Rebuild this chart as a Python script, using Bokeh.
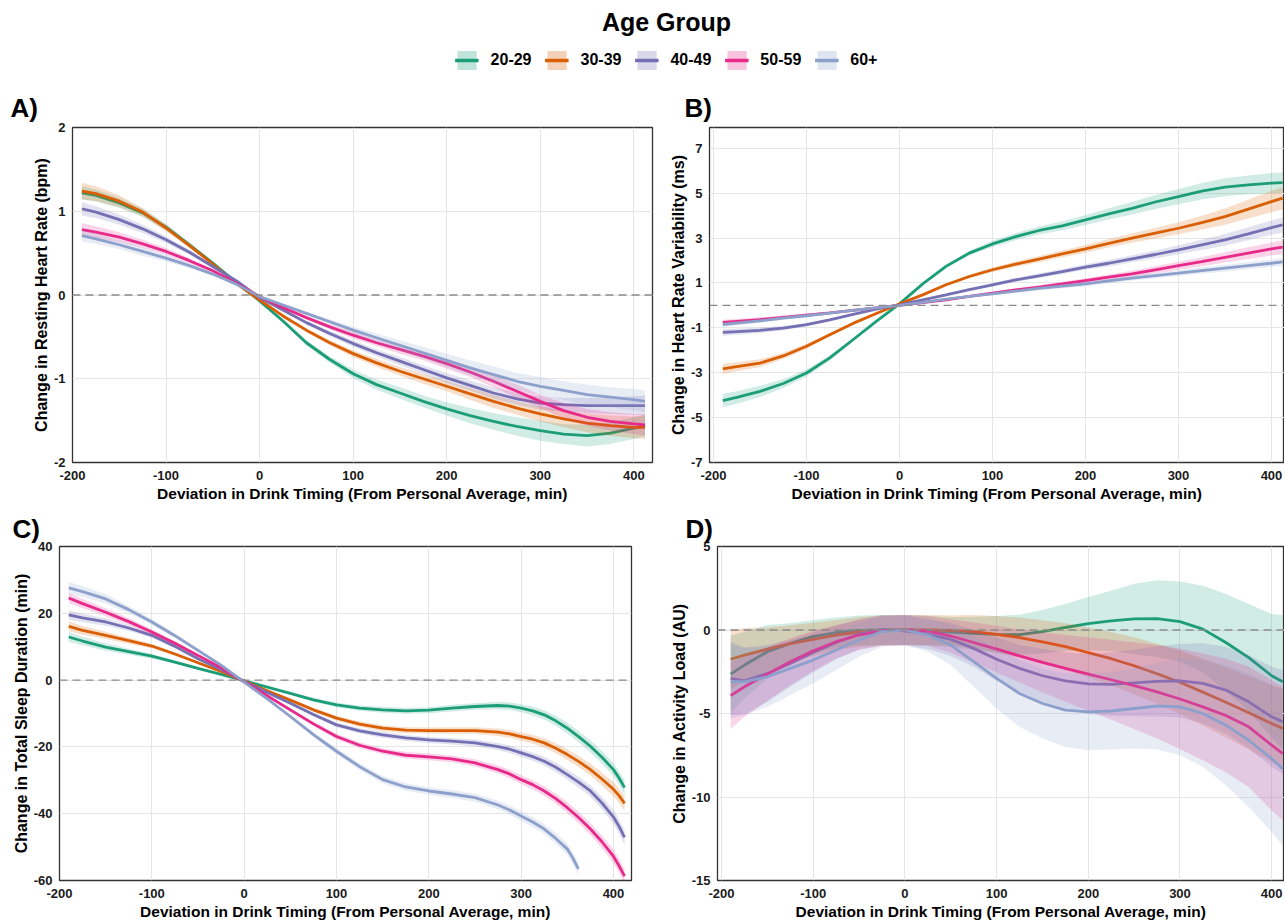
from bokeh.plotting import figure
from bokeh.models import Range1d, FixedTicker, Span, Legend, LegendItem, Title
from bokeh.layouts import column, row
from bokeh.embed import file_html
from bokeh.resources import INLINE

GROUPS = ["20-29", "30-39", "40-49", "50-59", "60+"]
COLORS = ["#1b9e77", "#d95f02", "#7570b3", "#e7298a", "#8da0cb"]

X = [-190, -175, -150, -125, -100, -75, -50, -25, 0, 25, 50, 75, 100, 125,
     150, 175, 200, 225, 250, 275, 300, 325, 350, 375, 400, 412]
X_TICKS = [-200, -100, 0, 100, 200, 300, 400]

# ---- Panel A: resting heart rate (bpm)
A_2029 = [1.22, 1.19, 1.10, 0.98, 0.81, 0.60, 0.38, 0.15, -0.07, -0.31, -0.57, -0.77, -0.94, -1.07, -1.17, -1.27, -1.36, -1.44, -1.51, -1.57, -1.62, -1.66, -1.68, -1.65, -1.59, -1.56]
A_3039 = [1.24, 1.21, 1.12, 0.99, 0.80, 0.59, 0.37, 0.14, -0.06, -0.25, -0.42, -0.57, -0.70, -0.81, -0.91, -1.00, -1.09, -1.18, -1.27, -1.35, -1.42, -1.48, -1.53, -1.56, -1.58, -1.58]
A_4049 = [1.03, 0.99, 0.90, 0.79, 0.66, 0.51, 0.34, 0.17, -0.03, -0.18, -0.33, -0.46, -0.58, -0.69, -0.79, -0.89, -0.99, -1.08, -1.17, -1.24, -1.29, -1.31, -1.32, -1.32, -1.32, -1.32]
A_5059 = [0.78, 0.75, 0.69, 0.61, 0.52, 0.41, 0.29, 0.14, -0.02, -0.15, -0.27, -0.38, -0.48, -0.57, -0.65, -0.73, -0.82, -0.92, -1.03, -1.15, -1.27, -1.38, -1.46, -1.51, -1.54, -1.55]
A_60 = [0.71, 0.67, 0.60, 0.52, 0.44, 0.35, 0.25, 0.13, -0.02, -0.12, -0.22, -0.32, -0.42, -0.51, -0.60, -0.69, -0.78, -0.87, -0.95, -1.03, -1.09, -1.14, -1.19, -1.22, -1.25, -1.27]
A_2029_CI = [0.08, 0.07, 0.06, 0.05, 0.04, 0.03, 0.02, 0.01, 0.01, 0.02, 0.03, 0.04, 0.05, 0.06, 0.07, 0.07, 0.08, 0.09, 0.10, 0.11, 0.12, 0.12, 0.13, 0.13, 0.13, 0.13]
A_3039_CI = [0.10, 0.09, 0.07, 0.05, 0.04, 0.03, 0.02, 0.01, 0.01, 0.02, 0.02, 0.03, 0.04, 0.05, 0.05, 0.06, 0.06, 0.07, 0.08, 0.08, 0.09, 0.10, 0.11, 0.12, 0.13, 0.14]
A_4049_CI = [0.08, 0.07, 0.06, 0.05, 0.04, 0.03, 0.02, 0.01, 0.01, 0.02, 0.02, 0.03, 0.04, 0.04, 0.05, 0.05, 0.06, 0.06, 0.07, 0.07, 0.08, 0.08, 0.09, 0.10, 0.11, 0.12]
A_5059_CI = [0.08, 0.07, 0.06, 0.05, 0.04, 0.03, 0.02, 0.01, 0.01, 0.02, 0.02, 0.03, 0.04, 0.04, 0.05, 0.05, 0.06, 0.06, 0.07, 0.08, 0.08, 0.09, 0.10, 0.11, 0.12, 0.13]
A_60_CI = [0.07, 0.06, 0.05, 0.05, 0.04, 0.03, 0.02, 0.01, 0.01, 0.02, 0.02, 0.03, 0.04, 0.05, 0.06, 0.07, 0.08, 0.09, 0.10, 0.10, 0.11, 0.11, 0.12, 0.12, 0.13, 0.13]

# ---- Panel B: heart rate variability (ms)
B_2029 = [-4.24, -4.10, -3.83, -3.48, -3.01, -2.34, -1.53, -0.71, 0.07, 0.96, 1.74, 2.33, 2.74, 3.07, 3.34, 3.55, 3.81, 4.08, 4.33, 4.61, 4.85, 5.09, 5.27, 5.37, 5.45, 5.47]
B_3039 = [-2.83, -2.73, -2.57, -2.25, -1.82, -1.31, -0.80, -0.36, 0.07, 0.47, 0.92, 1.29, 1.59, 1.84, 2.06, 2.30, 2.52, 2.77, 3.00, 3.22, 3.44, 3.69, 3.96, 4.29, 4.63, 4.78]
B_4049 = [-1.20, -1.17, -1.11, -1.01, -0.86, -0.64, -0.40, -0.17, 0.03, 0.25, 0.47, 0.70, 0.92, 1.14, 1.32, 1.51, 1.71, 1.88, 2.08, 2.27, 2.48, 2.70, 2.92, 3.19, 3.47, 3.59]
B_5059 = [-0.76, -0.71, -0.63, -0.53, -0.43, -0.33, -0.22, -0.11, 0.0, 0.13, 0.25, 0.40, 0.55, 0.69, 0.82, 0.96, 1.11, 1.26, 1.41, 1.59, 1.77, 1.95, 2.14, 2.33, 2.52, 2.60]
B_60 = [-0.85, -0.79, -0.69, -0.57, -0.46, -0.34, -0.22, -0.11, 0.0, 0.14, 0.28, 0.40, 0.52, 0.64, 0.76, 0.86, 0.96, 1.09, 1.22, 1.33, 1.44, 1.55, 1.66, 1.77, 1.88, 1.94]
B_2029_CI = [0.30, 0.28, 0.25, 0.20, 0.16, 0.12, 0.08, 0.05, 0.03, 0.05, 0.08, 0.11, 0.14, 0.16, 0.18, 0.20, 0.22, 0.25, 0.28, 0.31, 0.34, 0.37, 0.40, 0.42, 0.45, 0.46]
B_3039_CI = [0.22, 0.20, 0.17, 0.14, 0.11, 0.08, 0.06, 0.04, 0.02, 0.04, 0.06, 0.08, 0.10, 0.12, 0.14, 0.15, 0.17, 0.19, 0.21, 0.24, 0.27, 0.31, 0.36, 0.42, 0.48, 0.50]
B_4049_CI = [0.15, 0.14, 0.12, 0.10, 0.08, 0.06, 0.05, 0.03, 0.02, 0.03, 0.05, 0.06, 0.08, 0.09, 0.10, 0.11, 0.12, 0.14, 0.16, 0.18, 0.20, 0.23, 0.26, 0.29, 0.32, 0.34]
B_5059_CI = [0.12, 0.11, 0.10, 0.08, 0.07, 0.05, 0.04, 0.03, 0.02, 0.03, 0.04, 0.05, 0.06, 0.07, 0.08, 0.09, 0.10, 0.12, 0.14, 0.16, 0.18, 0.20, 0.23, 0.26, 0.29, 0.31]
B_60_CI = [0.10, 0.09, 0.08, 0.07, 0.06, 0.05, 0.04, 0.03, 0.02, 0.03, 0.04, 0.05, 0.06, 0.07, 0.08, 0.09, 0.10, 0.10, 0.11, 0.12, 0.13, 0.14, 0.15, 0.16, 0.17, 0.18]

# ---- Panel C: total sleep duration (min), finer sampling where curves bend
C_X = [-190, -175, -150, -125, -100, -75, -50, -25, 0, 25, 50, 75, 100, 125,
       150, 175, 200, 225, 250, 275, 287.5, 300, 312.5, 325, 337.5, 350, 362.5,
       375, 387.5, 400, 406, 412]
C_60_X = [-190, -175, -150, -125, -100, -75, -50, -25, 0, 25, 50, 75, 100, 125,
          150, 175, 200, 225, 250, 275, 287.5, 300, 312.5, 325, 337.5, 350, 356, 362]
C_2029 = [12.9, 11.7, 9.9, 8.5, 7.2, 5.4, 3.5, 1.7, -0.2, -2.1, -4.0, -5.9, -7.4, -8.4, -8.9, -9.2, -9.0, -8.4, -7.9, -7.6, -7.8, -8.4, -9.2, -10.4, -12.2, -14.4, -17.0, -19.8, -23.1, -26.8, -29.3, -32.2]
C_3039 = [16.1, 14.9, 13.4, 11.8, 10.2, 7.8, 5.2, 2.6, -0.3, -3.2, -6.0, -8.9, -11.4, -13.2, -14.4, -15.0, -15.1, -15.1, -15.1, -15.6, -16.1, -16.9, -17.7, -18.8, -20.4, -22.3, -24.4, -26.8, -29.6, -32.7, -34.6, -36.9]
C_4049 = [19.5, 18.6, 17.4, 15.6, 13.4, 10.1, 6.4, 3.2, -0.4, -3.7, -6.9, -10.3, -13.4, -15.2, -16.4, -17.3, -17.9, -18.3, -18.8, -19.9, -20.7, -21.8, -22.9, -24.3, -26.1, -28.3, -30.6, -33.2, -36.8, -41.0, -43.8, -47.1]
C_5059 = [24.6, 22.9, 20.3, 17.5, 14.4, 11.0, 7.4, 3.7, -0.5, -4.7, -8.9, -13.1, -16.9, -19.5, -21.3, -22.5, -23.0, -23.6, -24.8, -26.8, -28.1, -29.8, -31.3, -33.2, -35.5, -38.2, -41.2, -44.6, -48.4, -52.8, -55.6, -58.7]
C_60 = [27.6, 26.5, 24.3, 21.1, 17.4, 13.3, 8.9, 4.5, -0.6, -5.6, -10.9, -16.3, -21.3, -25.9, -29.8, -32.0, -33.2, -34.1, -35.2, -37.4, -38.9, -40.7, -42.5, -44.6, -47.4, -50.6, -53.3, -56.5]
C_2029_CI = [1.5, 1.3, 1.1, 0.9, 0.7, 0.5, 0.4, 0.2, 0.1, 0.2, 0.4, 0.6, 0.7, 0.8, 0.9, 0.9, 0.9, 1.0, 1.0, 1.1, 1.15, 1.2, 1.3, 1.4, 1.5, 1.6, 1.7, 1.8, 1.9, 2.0, 2.1, 2.2]
C_3039_CI = [1.5, 1.3, 1.1, 0.9, 0.7, 0.5, 0.4, 0.2, 0.1, 0.2, 0.4, 0.6, 0.7, 0.8, 0.9, 0.9, 0.9, 1.0, 1.0, 1.1, 1.15, 1.2, 1.3, 1.4, 1.5, 1.6, 1.7, 1.8, 1.95, 2.1, 2.2, 2.3]
C_4049_CI = [1.4, 1.3, 1.1, 0.9, 0.7, 0.5, 0.4, 0.2, 0.1, 0.2, 0.4, 0.6, 0.7, 0.8, 0.9, 0.9, 0.9, 1.0, 1.0, 1.1, 1.15, 1.2, 1.25, 1.3, 1.4, 1.5, 1.6, 1.7, 1.85, 2.0, 2.1, 2.2]
C_5059_CI = [1.5, 1.4, 1.2, 1.0, 0.8, 0.6, 0.4, 0.2, 0.1, 0.2, 0.4, 0.6, 0.8, 0.9, 0.9, 1.0, 1.0, 1.0, 1.1, 1.2, 1.25, 1.3, 1.35, 1.4, 1.5, 1.6, 1.7, 1.8, 1.9, 2.0, 2.1, 2.2]
C_60_CI = [1.8, 1.6, 1.4, 1.1, 0.9, 0.7, 0.5, 0.3, 0.1, 0.3, 0.5, 0.7, 0.9, 1.0, 1.1, 1.1, 1.1, 1.2, 1.2, 1.3, 1.35, 1.4, 1.45, 1.5, 1.6, 1.7, 1.8, 1.9]

# ---- Panel D: activity load (AU)
D_2029 = [-2.64, -2.10, -1.30, -0.80, -0.40, -0.15, -0.03, 0.0, 0.0, -0.05, -0.12, -0.20, -0.26, -0.28, -0.10, 0.15, 0.38, 0.55, 0.67, 0.68, 0.50, 0.05, -0.75, -1.65, -2.74, -3.10]
D_3039 = [-1.75, -1.50, -1.15, -0.82, -0.56, -0.30, -0.12, -0.03, 0.0, 0.0, -0.02, -0.10, -0.26, -0.45, -0.71, -1.00, -1.35, -1.72, -2.14, -2.62, -3.13, -3.72, -4.33, -4.95, -5.60, -5.90]
D_4049 = [-2.90, -3.05, -2.60, -2.00, -1.35, -0.75, -0.25, 0.0, -0.05, -0.25, -0.56, -1.10, -1.75, -2.30, -2.74, -3.05, -3.23, -3.25, -3.17, -3.08, -3.04, -3.20, -3.60, -4.30, -5.20, -5.50]
D_5059 = [-3.93, -3.40, -2.64, -1.90, -1.25, -0.70, -0.30, -0.05, 0.0, -0.06, -0.36, -0.75, -1.15, -1.55, -1.94, -2.30, -2.64, -2.98, -3.33, -3.70, -4.13, -4.60, -5.12, -5.80, -6.90, -7.40]
D_60 = [-3.10, -3.10, -2.80, -2.30, -1.80, -1.20, -0.60, -0.10, 0.0, -0.30, -0.90, -1.90, -2.90, -3.80, -4.40, -4.80, -4.90, -4.85, -4.70, -4.55, -4.60, -5.00, -5.70, -6.60, -7.70, -8.30]
D_2029_CI = [2.3, 2.0, 1.6, 1.2, 1.0, 0.9, 0.9, 0.9, 0.9, 0.9, 0.9, 1.0, 1.1, 1.2, 1.3, 1.4, 1.6, 1.8, 2.1, 2.3, 2.4, 2.6, 2.9, 3.2, 3.7, 4.0]
D_3039_CI = [1.8, 1.6, 1.3, 1.1, 1.0, 0.9, 0.9, 0.9, 0.9, 0.9, 0.9, 1.0, 1.1, 1.2, 1.3, 1.4, 1.5, 1.6, 1.7, 1.8, 1.9, 2.0, 2.1, 2.2, 2.3, 2.4]
D_4049_CI = [2.2, 2.0, 1.7, 1.4, 1.2, 1.0, 0.9, 0.9, 0.9, 0.9, 1.0, 1.1, 1.3, 1.4, 1.6, 1.7, 1.8, 1.9, 2.0, 2.1, 2.2, 2.4, 2.6, 2.8, 3.0, 3.1]
D_5059_CI = [2.0, 1.8, 1.6, 1.4, 1.2, 1.0, 0.9, 0.9, 0.9, 0.9, 1.0, 1.2, 1.4, 1.6, 1.8, 2.0, 2.2, 2.4, 2.6, 2.8, 3.0, 3.2, 3.4, 3.6, 3.9, 4.0]
D_60_CI = [2.2, 2.0, 1.8, 1.6, 1.4, 1.2, 1.0, 0.9, 0.9, 1.0, 1.2, 1.5, 1.8, 2.0, 2.1, 2.2, 2.3, 2.3, 2.4, 2.6, 2.9, 3.2, 3.6, 4.0, 4.4, 4.6]

FONT = "Liberation Sans"


def make_panel(label, ylabel, xr, yr, yticks, series, width, height,
               bl, br, bt, bb, title_offset, title_standoff, band_alpha):
    p = figure(width=width, height=height, x_range=Range1d(*xr), y_range=Range1d(*yr),
               output_backend="svg", toolbar_location=None,
               min_border_left=bl, min_border_right=br, min_border_top=bt, min_border_bottom=bb)
    p.title = Title(text=label, align="left", offset=title_offset, standoff=title_standoff,
                    text_font=FONT, text_font_size="26px", text_font_style="bold",
                    text_color="#000000")
    p.background_fill_color = "white"
    p.border_fill_color = "white"
    p.outline_line_color = "#333333"
    p.outline_line_width = 1.3
    p.grid.grid_line_color = "#e6e6e6"
    p.grid.grid_line_width = 1.0
    p.xaxis.ticker = FixedTicker(ticks=X_TICKS)
    p.yaxis.ticker = FixedTicker(ticks=yticks)
    p.xaxis.major_label_overrides = {t: str(t) for t in X_TICKS}
    p.yaxis.major_label_overrides = {t: str(t) for t in yticks}
    p.xaxis.axis_label = "Deviation in Drink Timing (From Personal Average, min)"
    p.yaxis.axis_label = ylabel
    for ax in (p.xaxis[0], p.yaxis[0]):
        ax.axis_line_color = None
        ax.major_tick_line_color = None
        ax.minor_tick_line_color = None
        ax.major_tick_out = 0
        ax.major_tick_in = 0
        ax.minor_tick_out = 0
        ax.minor_tick_in = 0
        ax.major_label_text_font = FONT
        ax.major_label_text_font_style = "bold"
        ax.major_label_text_font_size = "13px"
        ax.major_label_text_color = "#1a1a1a"
        ax.axis_label_text_font = FONT
        ax.axis_label_text_font_style = "bold"
        ax.axis_label_text_color = "#000000"
    p.xaxis.axis_label_text_font_size = "15.5px"
    p.yaxis.axis_label_text_font_size = "16px"
    p.xaxis.major_label_standoff = 8
    p.xaxis.axis_label_standoff = 2
    p.yaxis.major_label_standoff = 7
    p.yaxis.axis_label_standoff = 1

    for (xs, ys, ci), color in zip(series, COLORS):
        lo = [y - c for y, c in zip(ys, ci)]
        hi = [y + c for y, c in zip(ys, ci)]
        p.varea(x=xs, y1=lo, y2=hi, fill_color=color, fill_alpha=band_alpha)
        p.line(x=xs, y=ys, line_color=color, line_width=2.8)

    p.add_layout(Span(location=0, dimension="width", line_color="#8a8a8a",
                      line_width=1.3, line_dash="8 5"))
    return p


W_LEFT, W_RIGHT = 655, 629
H_HEAD, H_ROW1, H_ROW2 = 80, 425, 417

pA = make_panel("A)", "Change in Resting Heart Rate (bpm)", (-200, 420), (-2, 2),
                [-2, -1, 0, 1, 2],
                [(X, A_2029, A_2029_CI), (X, A_3039, A_3039_CI), (X, A_4049, A_4049_CI),
                 (X, A_5059, A_5059_CI), (X, A_60, A_60_CI)],
                W_LEFT, H_ROW1, 72, 3, 47, 43, -62, 9, 0.2)
pB = make_panel("B)", "Change in Heart Rate Variability (ms)", (-204.3, 414), (-7, 7.93),
                [-7, -5, -3, -1, 1, 3, 5, 7],
                [(X, B_2029, B_2029_CI), (X, B_3039, B_3039_CI), (X, B_4049, B_4049_CI),
                 (X, B_5059, B_5059_CI), (X, B_60, B_60_CI)],
                W_RIGHT, H_ROW1, 54, 0, 47, 43, -25, 9, 0.2)
pC = make_panel("C)", "Change in Total Sleep Duration (min)", (-200, 419.5), (-60, 40),
                [-60, -40, -20, 0, 20, 40],
                [(C_X, C_2029, C_2029_CI), (C_X, C_3039, C_3039_CI), (C_X, C_4049, C_4049_CI),
                 (C_X, C_5059, C_5059_CI), (C_60_X, C_60, C_60_CI)],
                W_LEFT, H_ROW2, 59, 24, 41, 40, -47, 6, 0.2)
pD = make_panel("D)", "Change in Activity Load (AU)", (-204.4, 414), (-15, 5),
                [-15, -10, -5, 0, 5],
                [(X, D_2029, D_2029_CI), (X, D_3039, D_3039_CI), (X, D_4049, D_4049_CI),
                 (X, D_5059, D_5059_CI), (X, D_60, D_60_CI)],
                W_RIGHT, H_ROW2, 62, 0, 41, 40, -32, 6, 0.2)

# ---- header with legend (legend swatches come from off-range placeholder renderers)
head = figure(width=W_LEFT + W_RIGHT, height=H_HEAD, x_range=Range1d(0, 1), y_range=Range1d(0, 1),
              output_backend="svg", toolbar_location=None,
              x_axis_location=None, y_axis_location=None,
              min_border_left=48, min_border_right=0, min_border_top=0, min_border_bottom=0)
head.grid.visible = False
head.outline_line_color = None
head.title = Title(text="Age Group", align="center", standoff=10, text_font=FONT,
                   text_font_size="25px", text_font_style="bold", text_color="#000000")
items = []
for g, c in zip(GROUPS, COLORS):
    rb = head.varea(x=[-10, -9], y1=[-10, -10], y2=[-9, -9], fill_color=c, fill_alpha=0.28)
    rl = head.line(x=[-10, -9], y=[-10, -10], line_color=c, line_width=3.5)
    items.append(LegendItem(label=g, renderers=[rb, rl]))
legend = Legend(items=items, orientation="horizontal", location="center",
                glyph_width=24, glyph_height=24, label_standoff=12, spacing=13,
                label_text_font=FONT, label_text_font_size="16px", label_text_font_style="bold",
                label_text_color="#000000", border_line_color=None,
                background_fill_alpha=0, padding=0, margin=0)
head.add_layout(legend, "center")

layout = column(head, row(pA, pB), row(pC, pD))
open("out.html", "w").write(file_html(layout, INLINE))
